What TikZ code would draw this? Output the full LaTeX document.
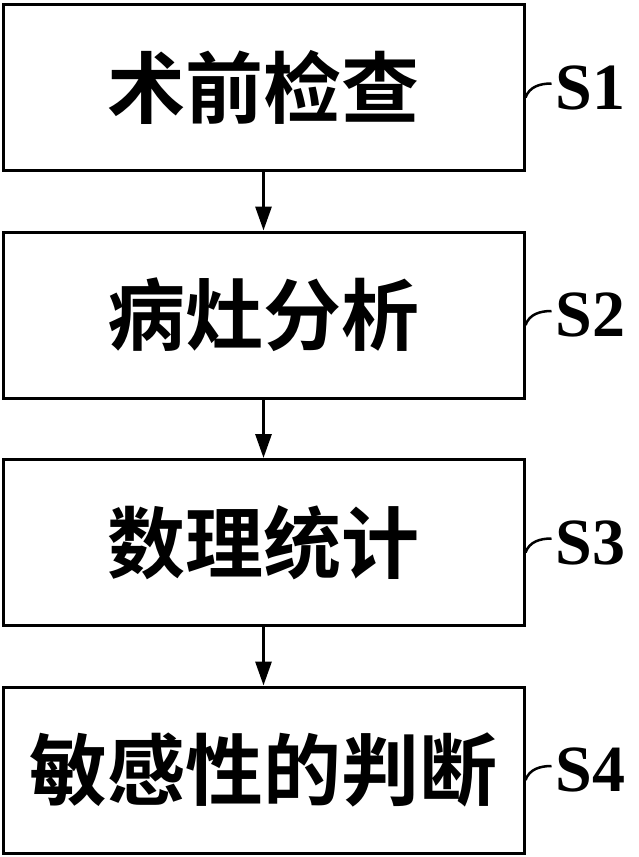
\documentclass[tikz,border=0pt]{standalone}
\usepackage{fontspec}
\setmainfont{Liberation Serif}
\newfontfamily\cjk{Noto Sans CJK SC}[UprightFont=* Bold]
\usetikzlibrary{positioning, arrows.meta}

\begin{document}
\begin{tikzpicture}[
    stepbox/.style={draw, line width=3pt, minimum width=521pt, minimum height=166pt, inner sep=0pt, font=\cjk\fontsize{78}{78}\selectfont},
    steplabel/.style={inner sep=4pt, font=\bfseries\fontsize{66}{66}\selectfont},
    arrow/.style={-{Triangle[length=24pt, width=16pt]}, line width=3pt},
    leader/.style={line width=2.5pt},
]
    \useasboundingbox (0pt,0pt) rectangle (639pt,-857pt);

    % Steps
    \node[stepbox] (exam) at (263.5pt,-87.5pt) {术前检查};
    \node[stepbox, below=58.5pt of exam] (lesion) {病灶分析};
    \node[stepbox, below=58.5pt of lesion] (stats) {数理统计};
    \node[stepbox, below=58.5pt of stats] (judge) {敏感性的判断};

    % Step labels
    \node[steplabel, right=26pt of exam] (s1) {S1};
    \node[steplabel, right=26pt of lesion] (s2) {S2};
    \node[steplabel, right=26pt of stats] (s3) {S3};
    \node[steplabel, right=26pt of judge] (s4) {S4};

    \draw[leader] ([yshift=-10pt]exam.east) to[out=70, in=180] ([yshift=4pt]s1.west);
    \draw[leader] ([yshift=-10pt]lesion.east) to[out=70, in=180] ([yshift=4pt]s2.west);
    \draw[leader] ([yshift=-10pt]stats.east) to[out=70, in=180] ([yshift=4pt]s3.west);
    \draw[leader] ([yshift=-10pt]judge.east) to[out=70, in=180] ([yshift=4pt]s4.west);

    % Flow
    \draw[arrow] (exam) -- (lesion);
    \draw[arrow] (lesion) -- (stats);
    \draw[arrow] (stats) -- (judge);

\end{tikzpicture}
\end{document}
